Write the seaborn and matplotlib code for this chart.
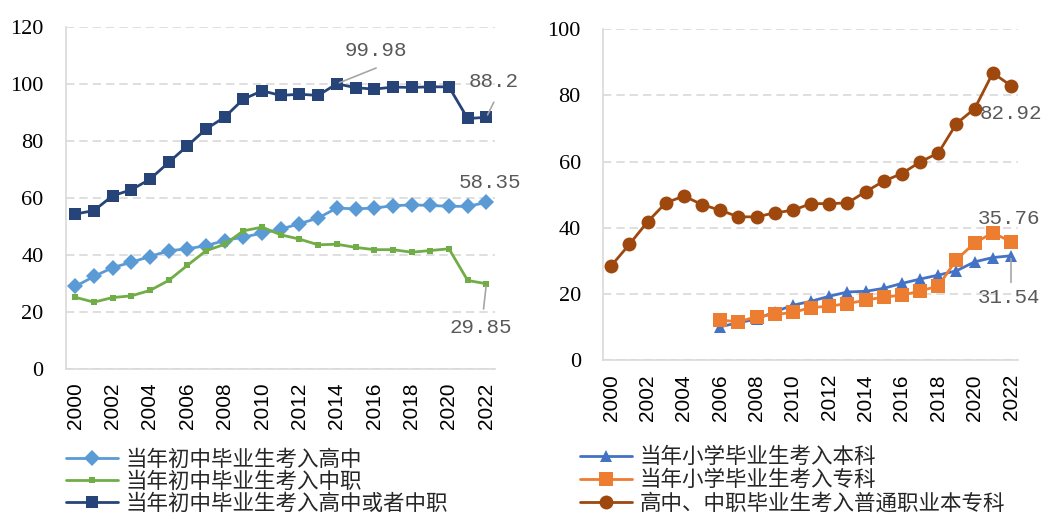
import pandas as pd
import matplotlib.pyplot as plt
import seaborn as sns

# data
years = list(range(2000, 2023))
years_primary = list(range(2006, 2023))

# left panel: junior high graduates
hs_rate = [28.9, 32.4, 35.5, 37.4, 39.4, 41.4, 42.1, 43.2, 45.0, 46.2, 47.6, 49.0,
           50.9, 52.9, 56.4, 56.1, 56.4, 57.2, 57.5, 57.3, 57.0, 57.0, 58.35]
voc_rate = [25.1, 23.4, 25.0, 25.6, 27.5, 31.0, 36.3, 41.4, 43.7, 48.4, 49.7, 47.0,
            45.5, 43.5, 43.7, 42.6, 41.8, 41.8, 40.9, 41.5, 42.1, 31.0, 29.85]
hs_or_voc_rate = [54.3, 55.5, 60.7, 62.8, 66.5, 72.4, 78.2, 84.1, 88.3, 94.6, 97.5, 95.9,
                  96.3, 95.9, 99.98, 98.6, 98.1, 98.8, 98.7, 98.9, 98.9, 87.8, 88.2]

# right panel
bachelor_rate = [10.1, 11.3, 12.4, 14.6, 16.6, 17.8, 19.3, 20.6, 20.8, 21.7, 23.2,
                 24.5, 25.7, 27.0, 29.7, 31.0, 31.54]
junior_college_rate = [12.1, 11.6, 13.1, 13.8, 14.4, 15.9, 16.3, 17.1, 18.1, 19.1, 19.6,
                       20.9, 22.4, 30.4, 35.4, 38.5, 35.76]
vocational_bachelor_rate = [28.5, 35.0, 41.8, 47.5, 49.6, 47.0, 45.3, 43.3, 43.3, 44.5,
                            45.3, 47.3, 47.3, 47.5, 50.9, 54.1, 56.4, 59.9, 62.6, 71.5,
                            76.0, 86.8, 82.92]

left_labels = ['当年初中毕业生考入高中', '当年初中毕业生考入中职', '当年初中毕业生考入高中或者中职']
right_labels = ['当年小学毕业生考入本科', '当年小学毕业生考入专科', '高中、中职毕业生考入普通职业本专科']

sns.set_theme(style='white')
plt.rcParams['font.family'] = ['Liberation Serif', 'Noto Sans CJK SC', 'DejaVu Sans']

fig = plt.figure(figsize=(10.46, 5.13), dpi=100)
ax1 = fig.add_axes([0.063, 0.281, 0.410, 0.667])
ax2 = fig.add_axes([0.5765, 0.298, 0.397, 0.645])

ytick_font = {'family': 'Liberation Serif', 'size': 16}
xtick_font = {'family': 'Liberation Sans', 'size': 15}
ann_font = dict(family='Liberation Mono', size=15, color='#595959')
lead = dict(arrowstyle='-', color='#a6a6a6', lw=1.2, shrinkA=0, shrinkB=2)

# left panel
sns.lineplot(x=years, y=hs_rate, ax=ax1, color='#5B9BD5', marker='D', markersize=8,
             markeredgewidth=0, lw=2, label=left_labels[0])
sns.lineplot(x=years, y=voc_rate, ax=ax1, color='#70AD47', marker='s', markersize=5,
             markeredgewidth=0, lw=2, label=left_labels[1])
sns.lineplot(x=years, y=hs_or_voc_rate, ax=ax1, color='#264478', marker='s', markersize=8,
             markeredgewidth=0, lw=2, label=left_labels[2])
ax1.set_ylim(0, 120)
ax1.set_yticks(range(0, 121, 20))
ax1.set_xlim(1999.5, 2022.45)

ax1.text(2016.1, 111.6, '99.98', ha='center', va='center', **ann_font)
ax1.annotate('', xy=(2014, hs_or_voc_rate[14]), xytext=(2016.1, 105.5), arrowprops=lead)
ax1.text(2022.4, 100.7, '88.2', ha='center', va='center', **ann_font)
ax1.annotate('', xy=(2022, hs_or_voc_rate[-1]), xytext=(2022.4, 93.5), arrowprops=lead)
ax1.text(2022.2, 65.3, '58.35', ha='center', va='center', **ann_font)
ax1.text(2021.7, 14.4, '29.85', ha='center', va='center', **ann_font)
ax1.annotate('', xy=(2022, voc_rate[-1]), xytext=(2021.85, 21.0), arrowprops=lead)

# right panel
sns.lineplot(x=years_primary, y=bachelor_rate, ax=ax2, color='#4472C4', marker='^',
             markersize=9, markeredgewidth=0, lw=2, label=right_labels[0])
sns.lineplot(x=years_primary, y=junior_college_rate, ax=ax2, color='#ED7D31', marker='s',
             markersize=10, markeredgewidth=0, lw=2, label=right_labels[1])
sns.lineplot(x=years, y=vocational_bachelor_rate, ax=ax2, color='#9E480E', marker='o',
             markersize=10, markeredgewidth=0, lw=2, label=right_labels[2])
ax2.set_ylim(0, 100)
ax2.set_yticks(range(0, 101, 20))
ax2.set_xlim(1999.55, 2022.4)

ax2.text(2022.0, 74.6, '82.92', ha='center', va='center', **ann_font)
ax2.text(2021.9, 42.9, '35.76', ha='center', va='center', **ann_font)
ax2.text(2021.9, 19.0, '31.54', ha='center', va='center', **ann_font)
ax2.annotate('', xy=(2022, bachelor_rate[-1]), xytext=(2022, 23.5), arrowprops=lead)

for ax in (ax1, ax2):
    ax.set_xticks(range(2000, 2023, 2))
    ax.set_xticklabels([str(y) for y in range(2000, 2023, 2)], rotation=90, fontdict=xtick_font)
    ax.set_yticklabels([str(int(v)) for v in ax.get_yticks()], fontdict=ytick_font)
    ax.tick_params(axis='x', length=0, pad=10, colors='black')
    ax.tick_params(axis='y', length=0, pad=16, colors='black')
    ax.grid(axis='y', color='#d9d9d9', ls=(0, (5, 3)), lw=1.2)
    ax.grid(axis='x', visible=False)
    for side in ('top', 'right'):
        ax.spines[side].set_visible(False)
    for side in ('left', 'bottom'):
        ax.spines[side].set_color('#d9d9d9')
        ax.spines[side].set_linewidth(1.2)
    ax.set_xlabel('')
    ax.set_ylabel('')

leg_font = {'family': ['Noto Sans CJK SC'], 'size': 15.5}
ax1.legend(loc='upper left', bbox_to_anchor=(0.0, -0.234), frameon=False, prop=leg_font,
           labelspacing=0.0, handlelength=2.4, handletextpad=0.35, borderpad=0,
           borderaxespad=0)
ax2.legend(loc='upper left', bbox_to_anchor=(-0.055, -0.26), frameon=False, prop=leg_font,
           labelspacing=0.05, handlelength=2.4, handletextpad=0.35, borderpad=0,
           borderaxespad=0)

fig.savefig('out.png', dpi=100)
